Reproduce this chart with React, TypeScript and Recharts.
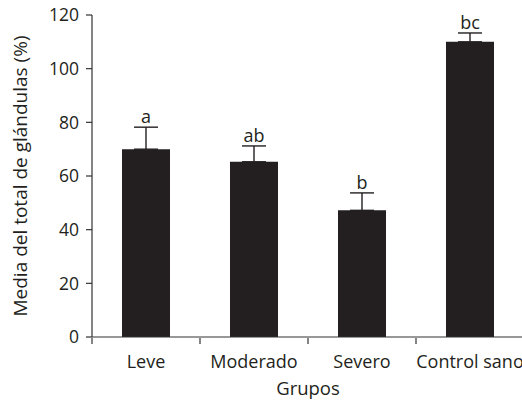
import React from 'react';
import { ComposedChart, Bar, Line, XAxis, YAxis, ErrorBar, LabelList } from 'recharts';

const categories = ['Leve', 'Moderado', 'Severo', 'Control sano'];
const means = [70, 65.3, 47.2, 110];
const errors = [8.2, 5.9, 6.5, 3.3];
const letters = ['a', 'ab', 'b', 'bc'];
const yTicks = [0, 20, 40, 60, 80, 100, 120];
const boundaryTicks = [0, 1, 2, 3];

const FONT = '"Open Sans", Lato, sans-serif';
const INK = '#231f20';
const AXIS = '#333333';

const data = categories.map((name, i) => ({
  name,
  pos: i + 0.5,
  mean: means[i],
  err: [0, errors[i]],
  top: means[i] + errors[i],
  letter: letters[i],
}));

const App: React.FC = () => {
  return (
    <div style={{ position: 'absolute', left: 0, top: 0, width: 522, height: 400, background: '#fff' }}>
      <ComposedChart
        width={522}
        height={400}
        data={data}
        margin={{ top: 15, right: -2, left: 0, bottom: 0 }}
        style={{ fontFamily: FONT }}
      >
        {/* group names, drawn right under the plot */}
        <XAxis
          dataKey="name"
          tickLine={false}
          tickSize={8}
          tickMargin={10}
          height={1}
          axisLine={{ stroke: AXIS, strokeWidth: 1.2 }}
          tick={{ fill: INK, fontSize: 18 }}
          interval={0}
        />
        {/* tick marks between the groups + axis title */}
        <XAxis
          xAxisId="bounds"
          dataKey="pos"
          type="number"
          domain={[0, 4]}
          ticks={boundaryTicks}
          interval={0}
          tick={() => <g />}
          tickSize={6}
          tickLine={{ stroke: AXIS, strokeWidth: 1.2 }}
          axisLine={false}
          height={62}
          allowDataOverflow
          label={{ value: 'Grupos', position: 'insideBottom', offset: 5, fill: INK, fontSize: 18.5 }}
        />
        <YAxis
          domain={[0, 120]}
          ticks={yTicks}
          width={92}
          tickSize={6}
          tickMargin={7}
          axisLine={{ stroke: AXIS, strokeWidth: 1.2 }}
          tickLine={{ stroke: AXIS, strokeWidth: 1.2 }}
          tick={{ fill: INK, fontSize: 17.5 }}
          label={{
            value: 'Media del total de glándulas (%)',
            angle: -90,
            position: 'insideLeft',
            offset: 20,
            fill: INK,
            fontSize: 19,
            style: { textAnchor: 'middle' },
          }}
        />
        <Bar dataKey="mean" fill={INK} barSize={48} isAnimationActive={false}>
          <ErrorBar dataKey="err" width={12} stroke={INK} strokeWidth={1.4} direction="y" />
        </Bar>
        <Line
          xAxisId="bounds"
          dataKey="top"
          stroke="none"
          dot={false}
          activeDot={false}
          isAnimationActive={false}
          legendType="none"
        >
          <LabelList dataKey="letter" position="top" offset={4} fill={INK} fontSize={18} />
        </Line>
      </ComposedChart>
    </div>
  );
};

export default App;
